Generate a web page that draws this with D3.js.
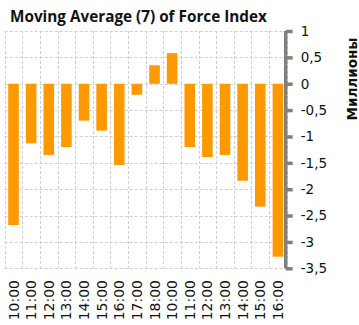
<!DOCTYPE html>
<html>
<head>
<meta charset="utf-8">
<script src="https://cdn.jsdelivr.net/npm/d3@7"></script>
<style>
  html, body { margin: 0; padding: 0; background: #fff; }
  svg { display: block; }
</style>
</head>
<body>
<svg id="chart" width="359" height="325"></svg>
<script>
// Hourly sessions over two trading days
const categories = ["10:00","11:00","12:00","13:00","14:00","15:00","16:00","17:00","18:00",
                    "10:00","11:00","12:00","13:00","14:00","15:00","16:00"];
// Moving Average (7) of Force Index, in millions
const values = [-2.68, -1.13, -1.35, -1.20, -0.70, -0.89, -1.54, -0.21, 0.35,
                0.58, -1.20, -1.39, -1.35, -1.84, -2.33, -3.28];
// Right axis ticks
const tickValues = [1, 0.5, 0, -0.5, -1, -1.5, -2, -2.5, -3, -3.5];

const svg = d3.select("#chart");
const plotLeft = 4.7, plotRight = 286.7, plotTop = 31, plotBottom = 268.3;

const x = d3.scaleBand()
  .domain(d3.range(categories.length))
  .range([plotLeft, plotRight])
  .paddingInner(0.4)
  .paddingOuter(0.2);

const y = d3.scaleLinear().domain([-3.5, 1]).range([plotBottom, plotTop]);

const fmt = v => String(v).replace(".", ",");

// Gridlines
const grid = svg.append("g")
  .attr("stroke", "#cfcfcf")
  .attr("stroke-width", 1)
  .attr("stroke-dasharray", "3,2");
grid.selectAll("line.h").data(tickValues).join("line")
  .attr("class", "h")
  .attr("x1", plotLeft).attr("x2", plotRight)
  .attr("y1", d => Math.round(y(d)) + 0.5).attr("y2", d => Math.round(y(d)) + 0.5);
const step = x.step();
grid.selectAll("line.v").data(d3.range(categories.length + 1)).join("line")
  .attr("class", "v")
  .attr("x1", i => Math.round(plotLeft + i * step) + 0.5)
  .attr("x2", i => Math.round(plotLeft + i * step) + 0.5)
  .attr("y1", plotTop).attr("y2", plotBottom);

// Bars
svg.append("g").selectAll("rect").data(values).join("rect")
  .attr("x", (d, i) => x(i))
  .attr("width", x.bandwidth())
  .attr("y", d => y(Math.max(0, d)))
  .attr("height", d => Math.abs(y(d) - y(0)))
  .attr("fill", "#ff9900");

// Right axis
const axis = svg.append("g")
  .attr("transform", `translate(${plotRight - 1},0)`)
  .call(d3.axisRight(y).tickValues(tickValues).tickSize(7).tickPadding(8).tickFormat(fmt));
axis.select(".domain")
  .attr("stroke", "#808080").attr("stroke-width", 3.5)
  .attr("d", `M0,${plotTop}V${plotBottom}`);
axis.selectAll(".tick line").attr("stroke", "#808080").attr("stroke-width", 3.5);
axis.selectAll(".tick text")
  .attr("fill", "#111")
  .style("font-family", "'DejaVu Sans', sans-serif")
  .style("font-size", "13.5px");

// Axis title
svg.append("text")
  .attr("transform", "translate(352,79) rotate(-90)")
  .attr("text-anchor", "middle")
  .attr("dominant-baseline", "central")
  .style("font-family", "'DejaVu Sans', sans-serif")
  .style("font-weight", "bold")
  .style("font-size", "13.5px")
  .attr("fill", "#111")
  .text("Миллионы");

// Category labels
svg.append("g").selectAll("text").data(categories).join("text")
  .attr("transform", (d, i) => `translate(${x(i) + x.bandwidth() / 2},280) rotate(-90)`)
  .attr("text-anchor", "end")
  .attr("dominant-baseline", "central")
  .style("font-family", "'DejaVu Sans', sans-serif")
  .style("font-size", "14px")
  .attr("fill", "#111")
  .text(d => d);

// Title
svg.append("text")
  .attr("x", 10).attr("y", 22)
  .style("font-family", "'Open Sans', sans-serif")
  .style("font-weight", "bold")
  .style("font-size", "15.3px")
  .attr("fill", "#111")
  .text("Moving Average (7) of Force Index");
</script>
</body>
</html>
